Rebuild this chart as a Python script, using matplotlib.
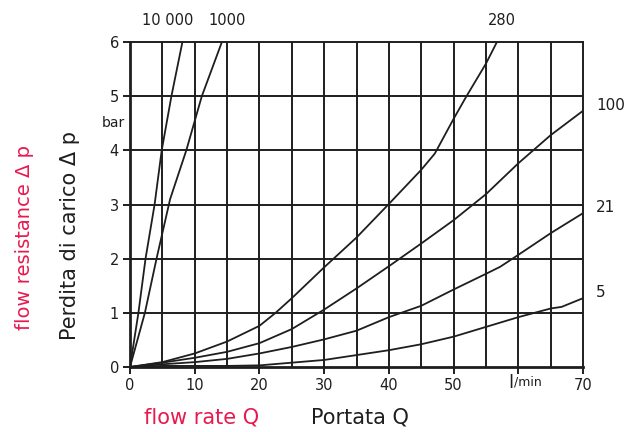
import matplotlib
matplotlib.use("Agg")
import matplotlib.pyplot as plt

# ---- data ----
p_10000 = [0, 1, 2, 3, 4, 5, 6]
q_10000 = [0, 1.3, 2.4, 3.8, 4.9, 6.4, 8.1]

p_1000 = [0, 1, 2, 3.1, 4, 5, 6]
q_1000 = [0, 2.3, 4.1, 6.2, 8.7, 11.1, 14.2]

q_280 = [0, 5, 10, 15, 20, 22.5, 25, 30, 35, 40, 45, 47.1, 50, 52, 55, 56.7]
p_280 = [0, 0.09, 0.25, 0.47, 0.76, 1.0, 1.27, 1.84, 2.39, 3.01, 3.64, 3.94, 4.58, 5.0, 5.6, 6.0]

q_100 = [0, 5, 10, 15, 20, 25, 30, 35, 40, 45, 50, 55, 60, 65, 70]
p_100 = [0, 0.08, 0.17, 0.28, 0.44, 0.70, 1.06, 1.45, 1.86, 2.28, 2.71, 3.19, 3.76, 4.28, 4.73]

q_21 = [0, 5, 10, 15, 20, 25, 30, 35, 40, 45, 50, 55, 57.2, 60, 65, 70]
p_21 = [0, 0.05, 0.09, 0.15, 0.25, 0.37, 0.51, 0.67, 0.92, 1.13, 1.43, 1.72, 1.85, 2.07, 2.47, 2.84]

q_5 = [0, 5, 10, 15, 20, 25, 30, 35, 40, 45, 50, 55, 60, 65, 66.7, 70]
p_5 = [0, 0.02, 0.02, 0.02, 0.03, 0.08, 0.13, 0.22, 0.31, 0.42, 0.56, 0.74, 0.92, 1.08, 1.11, 1.27]

x_ticks = [0, 10, 20, 30, 40, 50, 60, 70]
x_ticklabels = ["0", "10", "20", "30", "40", "50", "", "70"]
y_ticks = [0, 1, 2, 3, 4, 5, 6]
y_ticklabels = ["0", "1", "2", "3", "4", "5", "6"]

top_labels = ["10 000", "1000", "280"]
top_label_x = [5.8, 15.0, 57.5]
right_labels = ["100", "21", "5"]
right_label_y = [4.83, 2.94, 1.375]

RED = "#e8194f"
INK = "#1e1e1e"

fig = plt.figure(figsize=(6.34, 4.32), dpi=100)
ax = fig.add_axes([130/634, 1 - 367/432, 453/634, 325/432])
ax.set_xlim(0, 70)
ax.set_ylim(0, 6)

# grid
for gx in range(5, 70, 5):
    ax.axvline(gx, color=INK, lw=1.4, zorder=1)
for gy in range(1, 6):
    ax.axhline(gy, color=INK, lw=1.4, zorder=1)

for q, p in [(q_10000, p_10000), (q_1000, p_1000), (q_280, p_280),
             (q_100, p_100), (q_21, p_21), (q_5, p_5)]:
    ax.plot(q, p, color=INK, lw=1.3, zorder=3, clip_on=True)

for s in ax.spines.values():
    s.set_color(INK)
    s.set_linewidth(1.4)
ax.spines["left"].set_linewidth(2.0)
ax.spines["bottom"].set_linewidth(2.0)

ax.set_xticks(x_ticks)
ax.set_xticklabels(x_ticklabels)
ax.set_yticks(y_ticks)
ax.set_yticklabels(y_ticklabels)
ax.tick_params(axis="both", direction="out", length=5, width=1.4, color=INK,
               labelsize=10.5, labelcolor=INK, pad=3)

# l/min label at 60
ax.text(59.2, -0.13, "l", fontsize=13, color=INK, ha="right", va="top")
ax.text(59.3, -0.16, "/min", fontsize=9, color=INK, ha="left", va="top")

for lbl, lx in zip(top_labels, top_label_x):
    ax.text(lx, 6.25, lbl, fontsize=10.5, color=INK, ha="center", va="bottom", clip_on=False)
for lbl, ly in zip(right_labels, right_label_y):
    ax.text(72.0, ly, lbl, fontsize=11, color=INK, ha="left", va="center", clip_on=False)

ax.text(-0.8, 4.5, "bar", fontsize=10, color=INK, ha="right", va="center")

fig.text(25/634, 1 - 238/432, "flow resistance \u0394 p", rotation=90, color=RED,
         fontsize=14, ha="center", va="center")
fig.text(70/634, 1 - 235/432, "Perdita di carico \u0394 p", rotation=90, color=INK,
         fontsize=15, ha="center", va="center")
fig.text(202/634, 1 - 417/432, "flow rate Q", color=RED, fontsize=15, ha="center", va="center")
fig.text(360/634, 1 - 417/432, "Portata Q", color=INK, fontsize=15, ha="center", va="center")

fig.savefig("out.png", dpi=100)
